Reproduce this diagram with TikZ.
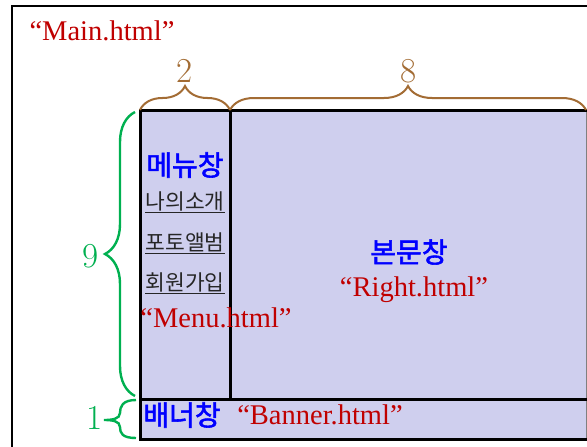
\documentclass[tikz,border=0pt]{standalone}
\usepackage{fontspec}
\usetikzlibrary{decorations.pathreplacing}
\newfontfamily\lat{Liberation Serif}
\newfontfamily\kr{Noto Sans CJK KR}
\newfontfamily\krb[FakeBold=2]{Noto Sans CJK KR}
\definecolor{fillc}{RGB}{207,207,238}
\definecolor{brownc}{RGB}{163,108,52}
\definecolor{greenc}{RGB}{0,176,80}
\definecolor{redc}{RGB}{192,0,0}
\definecolor{bluec}{RGB}{0,0,255}
\tikzset{
  heavy/.style={line width=3pt,black},
  redtxt/.style={text=redc,font=\lat\fontsize{28.5}{32}\selectfont,inner sep=0pt},
  bluetxt/.style={text=bluec,font=\krb\fontsize{28}{32}\selectfont,inner sep=0pt},
  menuitem/.style={font=\kr\fontsize{21.5}{25}\selectfont,inner sep=0pt,text=black!85},
  numtxt/.style={font=\fontsize{35}{40}\selectfont,inner sep=0pt},
  bbrace/.style={draw=brownc,line width=2pt,decorate,decoration={brace,amplitude=24pt}},
  gbrace/.style={draw=greenc,line width=2.4pt,decorate,decoration={brace,amplitude=30pt}},
}
\begin{document}
\begin{tikzpicture}[x=1pt,y=-1pt]
\useasboundingbox (0,0) rectangle (587,447);
\fill[white] (0,0) rectangle (587,447);
% outer frame
\draw[line width=1.2pt] (12,447) -- (12,6) -- (587,6);
% box fill
\fill[fillc] (140,110) rectangle (587,439);
\draw[gray,line width=1pt] (586.5,110) -- (586.5,439);
\draw[heavy] (587,110) -- (140,110) -- (140,439) -- (587,439);
\draw[heavy] (230,110) -- (230,399);
\draw[heavy] (140,399) -- (587,399);
% coordinates for braces
\coordinate (b1) at (140,110);
\coordinate (b2) at (230,110);
\coordinate (b3) at (586,110);
\coordinate (g1) at (135,112);
\coordinate (g2) at (135,396);
% brown braces
\draw[bbrace] (b1) -- (b2);
\draw[bbrace] (b2) -- (b3);
\node[numtxt,text=brownc] (n2) at (185,71) {2};
\node[numtxt,text=brownc] (n8) at (409,71) {8};
% green braces
\draw[gbrace] (g2) -- (g1);
\node[numtxt,text=greenc] (n9) at (91,256) {9};
\draw[greenc,line width=2.4pt] (136,400) .. controls (122,400) and (120,407) .. (120,413)
  .. controls (120,419) and (112,420) .. (104,420)
  .. controls (112,420) and (120,421) .. (120,427)
  .. controls (120,433) and (122,438) .. (136,438);
\node[numtxt,text=greenc] (n1) at (95,418) {1};
% texts
\node[redtxt] (main) at (102,31) {“Main.html”};
\node[bluetxt] (menu) at (185,165) {메뉴창};
\node[menuitem] (m1) at (185,202) {\underline{나의소개}};
\node[menuitem] (m2) at (185,243) {\underline{포토앨범}};
\node[menuitem] (m3) at (185,283) {\underline{회원가입}};
\node[redtxt] (menuhtml) at (216,318) {“Menu.html”};
\node[bluetxt] (body) at (409,252) {본문창};
\node[redtxt] (right) at (414,290) {“Right.html”};
\node[bluetxt] (banner) at (182,415) {배너창};
\node[redtxt] (bannerhtml) at (320,415) {“Banner.html”};
\end{tikzpicture}
\end{document}
